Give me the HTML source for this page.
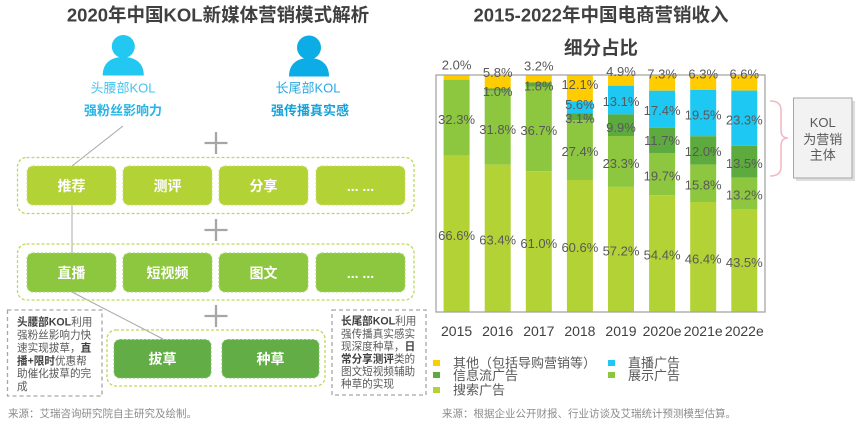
<!DOCTYPE html>
<html><head><meta charset="utf-8"><style>
html,body{margin:0;padding:0;background:#fff;}
svg{display:block;}
text{font-family:"Liberation Sans","Noto Sans CJK SC",sans-serif;}
</style></head><body>
<svg width="864" height="424" viewBox="0 0 864 424" xmlns="http://www.w3.org/2000/svg">
<!-- LEFT PANEL -->
<text x="218" y="15" text-anchor="middle" dominant-baseline="central" font-size="18.5" font-weight="bold" fill="#404040">2020年中国KOL新媒体营销模式解析</text>

<!-- icons -->
<circle cx="123.3" cy="46.5" r="11.5" fill="#22C7F2"/>
<path d="M102.7,75.5 C102.7,63 111,57 123.3,57 C135.6,57 143.8,63 143.8,75.5 Z" fill="#22C7F2"/>
<circle cx="309" cy="47.5" r="12" fill="#0CADE6"/>
<path d="M289,76.5 C289,64 297,58 309,58 C321,58 329,64 329,76.5 Z" fill="#0CADE6"/>

<text x="123" y="88" text-anchor="middle" dominant-baseline="central" font-size="13" fill="#45C4EE">头腰部KOL</text>
<text x="123" y="110.7" text-anchor="middle" dominant-baseline="central" font-size="13" font-weight="bold" fill="#27B5E6">强粉丝影响力</text>
<text x="308" y="88" text-anchor="middle" dominant-baseline="central" font-size="13" fill="#2BABDF">长尾部KOL</text>
<text x="310" y="110.7" text-anchor="middle" dominant-baseline="central" font-size="13" font-weight="bold" fill="#16A1D8">强传播真实感</text>

<!-- connectors -->
<g stroke="#A8A8A8" stroke-width="1" fill="none">
<line x1="123" y1="126" x2="72" y2="166"/>
<line x1="72" y1="205" x2="72" y2="253"/>
<line x1="72" y1="292" x2="163" y2="339"/>
</g>

<!-- plus signs -->
<g stroke="#A6A6A6" stroke-width="2.3">
<line x1="204.5" y1="143" x2="227.5" y2="143"/><line x1="216" y1="132" x2="216" y2="154"/>
<line x1="204.5" y1="230" x2="227.5" y2="230"/><line x1="216" y1="219" x2="216" y2="241"/>
<line x1="204.5" y1="316" x2="227.5" y2="316"/><line x1="216" y1="305" x2="216" y2="327"/>
</g>

<!-- containers -->
<g fill="none" stroke="#BBDA5A" stroke-width="1.3" stroke-dasharray="3 2">
<rect x="17.5" y="157.5" width="396.5" height="56" rx="9"/>
<rect x="17.5" y="244" width="396.5" height="56" rx="9"/>
<rect x="107" y="330" width="218" height="56" rx="9"/>
</g>

<!-- row 1 -->
<g fill="#B3D235" stroke="#C9E070" stroke-width="1" stroke-dasharray="2 2">
<rect x="27" y="166" width="89" height="39" rx="6"/>
<rect x="123" y="166" width="89" height="39" rx="6"/>
<rect x="219" y="166" width="89" height="39" rx="6"/>
<rect x="316" y="166" width="89" height="39" rx="6"/>
</g>
<g fill="#8DC63F" stroke="#A6D366" stroke-width="1" stroke-dasharray="2 2">
<rect x="27" y="253" width="89" height="39" rx="6"/>
<rect x="123" y="253" width="89" height="39" rx="6"/>
<rect x="219" y="253" width="89" height="39" rx="6"/>
<rect x="316" y="253" width="89" height="39" rx="6"/>
</g>
<g fill="#62AD45" stroke="#84C06A" stroke-width="1" stroke-dasharray="2 2">
<rect x="114" y="339.5" width="97" height="38.5" rx="6"/>
<rect x="222" y="339.5" width="97" height="38.5" rx="6"/>
</g>
<g font-size="14" font-weight="bold" fill="#fff" text-anchor="middle" dominant-baseline="central">
<text x="71.5" y="186">推荐</text>
<text x="167.5" y="186">测评</text>
<text x="263.5" y="186">分享</text>
<text x="360.5" y="186">... ...</text>
<text x="71.5" y="273">直播</text>
<text x="167.5" y="273">短视频</text>
<text x="263.5" y="273">图文</text>
<text x="360.5" y="273">... ...</text>
<text x="162.5" y="359">拔草</text>
<text x="270.5" y="359">种草</text>
</g>

<!-- notes -->
<g fill="none" stroke="#A6A6A6" stroke-width="1.3" stroke-dasharray="4 3">
<rect x="7.5" y="310" width="94.5" height="86"/>
<rect x="332" y="310" width="94" height="85"/>
</g>
<g font-size="10.6" fill="#595959" dominant-baseline="central">
<text x="17" y="322.5"><tspan font-weight="bold" fill="#404040">头腰部KOL</tspan>利用</text>
<text x="17" y="335.5">强粉丝影响力快</text>
<text x="17" y="348.5">速实现拔草，<tspan font-weight="bold" fill="#404040">直</tspan></text>
<text x="17" y="361.3"><tspan font-weight="bold" fill="#404040">播+限时</tspan>优惠帮</text>
<text x="17" y="374.2">助催化拔草的完</text>
<text x="17" y="386.8">成</text>
<text x="341" y="321.5"><tspan font-weight="bold" fill="#404040">长尾部KOL</tspan>利用</text>
<text x="341" y="334.5">强传播真实感实</text>
<text x="341" y="347">现深度种草，<tspan font-weight="bold" fill="#404040">日</tspan></text>
<text x="341" y="359.5"><tspan font-weight="bold" fill="#404040">常分享测评</tspan>类的</text>
<text x="341" y="372">图文短视频辅助</text>
<text x="341" y="384.5">种草的实现</text>
</g>
<text x="8" y="414" dominant-baseline="central" font-size="10.5" fill="#8C8C8C">来源：艾瑞咨询研究院自主研究及绘制。</text>

<!-- RIGHT PANEL -->
<text x="601" y="15" text-anchor="middle" dominant-baseline="central" font-size="18.5" font-weight="bold" fill="#404040">2015-2022年中国电商营销收入</text>
<text x="601" y="48" text-anchor="middle" dominant-baseline="central" font-size="18.5" font-weight="bold" fill="#404040">细分占比</text>

<!-- bars -->
<g>
<!-- 2015 -->
<rect x="443.6" y="75" width="26" height="4.7" fill="#FFCC00"/>
<rect x="443.6" y="79.7" width="26" height="75.9" fill="#8DC63F"/>
<rect x="443.6" y="155.6" width="26" height="156.4" fill="#B3D235"/>
<!-- 2016 -->
<rect x="484.7" y="75" width="26" height="13.5" fill="#FFCC00"/>
<rect x="484.7" y="88.5" width="26" height="2.3" fill="#5DAA3E"/>
<rect x="484.7" y="90.8" width="26" height="73.9" fill="#8DC63F"/>
<rect x="484.7" y="164.7" width="26" height="147.3" fill="#B3D235"/>
<!-- 2017 -->
<rect x="525.8" y="75" width="26" height="7.4" fill="#FFCC00"/>
<rect x="525.8" y="82.4" width="26" height="4.1" fill="#5DAA3E"/>
<rect x="525.8" y="86.5" width="26" height="84.7" fill="#8DC63F"/>
<rect x="525.8" y="171.2" width="26" height="140.8" fill="#B3D235"/>
<!-- 2018 -->
<rect x="566.9" y="75" width="26" height="26.3" fill="#FFCC00"/>
<rect x="566.9" y="101.3" width="26" height="12.2" fill="#1DC8F2"/>
<rect x="566.9" y="113.5" width="26" height="6.8" fill="#5DAA3E"/>
<rect x="566.9" y="120.3" width="26" height="59.7" fill="#8DC63F"/>
<rect x="566.9" y="180" width="26" height="132" fill="#B3D235"/>
<!-- 2019 -->
<rect x="608" y="75" width="26" height="10.7" fill="#FFCC00"/>
<rect x="608" y="85.7" width="26" height="28.7" fill="#1DC8F2"/>
<rect x="608" y="114.4" width="26" height="21.6" fill="#5DAA3E"/>
<rect x="608" y="136" width="26" height="50.9" fill="#8DC63F"/>
<rect x="608" y="186.9" width="26" height="125.1" fill="#B3D235"/>
<!-- 2020e -->
<rect x="649.1" y="75" width="26" height="15.7" fill="#FFCC00"/>
<rect x="649.1" y="90.7" width="26" height="37.2" fill="#1DC8F2"/>
<rect x="649.1" y="127.9" width="26" height="25.1" fill="#5DAA3E"/>
<rect x="649.1" y="153" width="26" height="42.3" fill="#8DC63F"/>
<rect x="649.1" y="195.3" width="26" height="116.7" fill="#B3D235"/>
<!-- 2021e -->
<rect x="690.2" y="75" width="26" height="14.9" fill="#FFCC00"/>
<rect x="690.2" y="89.9" width="26" height="46.3" fill="#1DC8F2"/>
<rect x="690.2" y="136.2" width="26" height="28.4" fill="#5DAA3E"/>
<rect x="690.2" y="164.6" width="26" height="37.4" fill="#8DC63F"/>
<rect x="690.2" y="202" width="26" height="110" fill="#B3D235"/>
<!-- 2022e -->
<rect x="731.3" y="75" width="26" height="15.6" fill="#FFCC00"/>
<rect x="731.3" y="90.6" width="26" height="55.2" fill="#1DC8F2"/>
<rect x="731.3" y="145.8" width="26" height="31.9" fill="#5DAA3E"/>
<rect x="731.3" y="177.7" width="26" height="31.3" fill="#8DC63F"/>
<rect x="731.3" y="209" width="26" height="103" fill="#B3D235"/>
</g>
<!-- axes box -->
<rect x="436" y="75" width="329" height="237" fill="none" stroke="#A6A6A6" stroke-width="1.3"/>

<!-- bar labels -->
<g font-size="13" fill="#595959" text-anchor="middle" dominant-baseline="central">
<text x="456.6" y="65">2.0%</text>
<text x="456.6" y="119.3">32.3%</text>
<text x="456.6" y="235.7">66.6%</text>
<text x="497.7" y="72.7">5.8%</text>
<text x="497.7" y="91.7">1.0%</text>
<text x="497.7" y="129.3">31.8%</text>
<text x="497.7" y="240">63.4%</text>
<text x="538.8" y="66">3.2%</text>
<text x="538.8" y="86">1.8%</text>
<text x="538.8" y="130.7">36.7%</text>
<text x="538.8" y="243.3">61.0%</text>
<text x="579.9" y="84.3">12.1%</text>
<text x="579.9" y="104.3">5.6%</text>
<text x="579.9" y="118.3">3.1%</text>
<text x="579.9" y="151.7">27.4%</text>
<text x="579.9" y="247.3">60.6%</text>
<text x="621" y="71.7">4.9%</text>
<text x="621" y="101.7">13.1%</text>
<text x="621" y="127.3">9.9%</text>
<text x="621" y="163.3">23.3%</text>
<text x="621" y="251">57.2%</text>
<text x="662.1" y="74">7.3%</text>
<text x="662.1" y="110.7">17.4%</text>
<text x="662.1" y="140.7">11.7%</text>
<text x="662.1" y="176">19.7%</text>
<text x="662.1" y="255">54.4%</text>
<text x="703.2" y="74">6.3%</text>
<text x="703.2" y="115">19.5%</text>
<text x="703.2" y="151.7">12.0%</text>
<text x="703.2" y="185">15.8%</text>
<text x="703.2" y="259">46.4%</text>
<text x="744.3" y="74">6.6%</text>
<text x="744.3" y="120">23.3%</text>
<text x="744.3" y="163.3">13.5%</text>
<text x="744.3" y="195">13.2%</text>
<text x="744.3" y="262.3">43.5%</text>
</g>

<!-- x labels -->
<g font-size="14" fill="#404040" text-anchor="middle" dominant-baseline="central">
<text x="456.6" y="331">2015</text>
<text x="497.7" y="331">2016</text>
<text x="538.8" y="331">2017</text>
<text x="579.9" y="331">2018</text>
<text x="621" y="331">2019</text>
<text x="662.1" y="331">2020e</text>
<text x="703.2" y="331">2021e</text>
<text x="744.3" y="331">2022e</text>
</g>

<!-- brace -->
<path d="M770,101 Q781,101 781,110 L781,130 Q781,138 788,138 Q781,138 781,146 L781,167 Q781,176 770,176" fill="none" stroke="#F4B6C4" stroke-width="1.5"/>

<!-- KOL box -->
<rect x="796" y="101" width="59" height="80" fill="#C8C8C8" opacity="0.6"/>
<rect x="793.5" y="98" width="58.5" height="80" fill="#F2F2F2" stroke="#A6A6A6" stroke-width="1"/>
<g font-size="13" fill="#595959" text-anchor="middle" dominant-baseline="central">
<text x="822.7" y="122.7">KOL</text>
<text x="822.7" y="139.3">为营销</text>
<text x="822.7" y="155">主体</text>
</g>

<!-- legend -->
<rect x="433" y="360" width="7" height="6" fill="#FFCC00"/>
<rect x="608" y="360" width="7" height="6" fill="#1DC8F2"/>
<rect x="433" y="372" width="7" height="6" fill="#5DAA3E"/>
<rect x="608" y="372" width="7" height="6" fill="#8DC63F"/>
<rect x="433" y="387" width="7" height="6" fill="#B3D235"/>
<g font-size="13" fill="#595959" dominant-baseline="central">
<text x="453" y="363">其他（包括导购营销等）</text>
<text x="628" y="363">直播广告</text>
<text x="453" y="375.5">信息流广告</text>
<text x="628" y="375.5">展示广告</text>
<text x="453" y="390">搜索广告</text>
</g>
<text x="442" y="414" dominant-baseline="central" font-size="10.5" fill="#8C8C8C">来源：根据企业公开财报、行业访谈及艾瑞统计预测模型估算。</text>
</svg>
</body></html>
